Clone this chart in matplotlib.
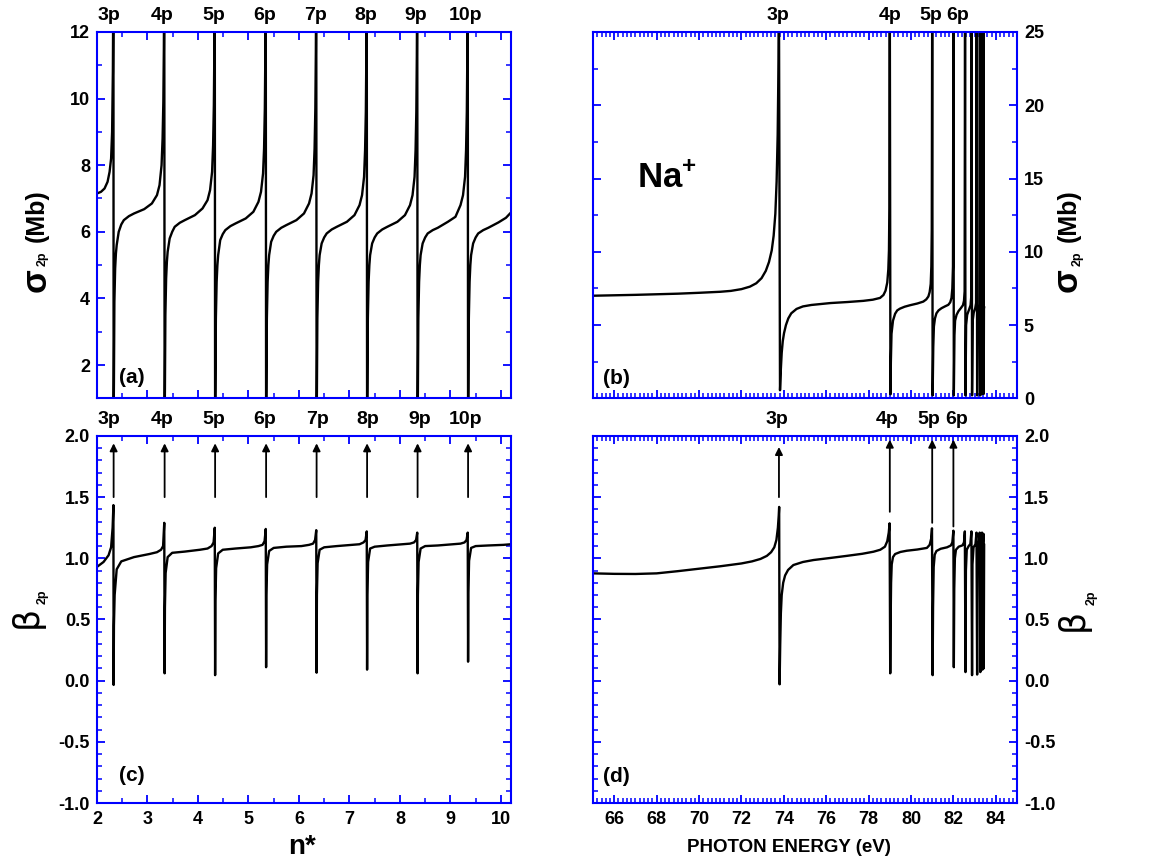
import matplotlib.pyplot as plt
from matplotlib.ticker import MultipleLocator, FuncFormatter

plt.rcParams['font.family'] = ['Liberation Sans', 'DejaVu Sans']
plt.rcParams['font.weight'] = 'bold'
plt.rcParams['mathtext.fontset'] = 'custom'
plt.rcParams['mathtext.rm'] = 'Liberation Sans:bold'
plt.rcParams['mathtext.bf'] = 'Liberation Sans:bold'

BLUE = '#0000ff'

# ---------------- n* panels (a) and (c) ----------------
res_n = [2.33, 3.34, 4.34, 5.35, 6.35, 7.35, 8.35, 9.35]
res_names = ['3p', '4p', '5p', '6p', '7p', '8p', '9p', '10p']
lab_a_x = [2.24, 3.29, 4.32, 5.32, 6.32, 7.33, 8.32, 9.29]
lab_c_x = [2.23, 3.29, 4.32, 5.33, 6.36, 7.37, 8.39, 9.29]

# sigma_2p (Mb) vs n*, below 3p
sig_lead_n = [2.0, 2.08, 2.15, 2.21, 2.25, 2.28, 2.30, 2.315, 2.326]
sig_lead = [7.15, 7.2, 7.3, 7.5, 7.8, 8.2, 9.0, 10.8, 14.0]
# fraction of the way from one resonance to the next at which values were read
frac_sig = [0.0, 0.006, 0.015, 0.03, 0.045, 0.06, 0.1, 0.15, 0.2, 0.3,
            0.4, 0.6, 0.75, 0.85, 0.9, 0.94, 0.96, 0.975, 0.985, 0.993]
sig_seg = [
    [0.3, 1.5, 3.9, 4.9, 5.35, 5.6, 6.0, 6.22, 6.35, 6.47, 6.55, 6.68, 6.85, 7.1, 7.4, 8.0, 8.8, 9.9, 11.5, 14.0],
    [0.2, 1.3, 3.5, 4.6, 5.1, 5.4, 5.8, 6.0, 6.15, 6.27, 6.35, 6.5, 6.7, 6.95, 7.25, 7.8, 8.6, 9.8, 11.5, 14.0],
    [0.2, 1.2, 3.4, 4.5, 5.0, 5.3, 5.75, 5.93, 6.05, 6.17, 6.25, 6.4, 6.6, 6.9, 7.2, 7.75, 8.5, 9.7, 11.4, 14.0],
    [0.2, 1.2, 3.4, 4.5, 5.0, 5.3, 5.7, 5.88, 6.0, 6.12, 6.2, 6.35, 6.55, 6.85, 7.15, 7.7, 8.5, 9.7, 11.4, 14.0],
    [0.2, 1.2, 3.4, 4.5, 5.0, 5.3, 5.65, 5.83, 5.95, 6.07, 6.15, 6.3, 6.5, 6.8, 7.1, 7.65, 8.45, 9.6, 11.3, 14.0],
    [0.2, 1.2, 3.4, 4.5, 5.0, 5.3, 5.65, 5.83, 5.95, 6.07, 6.15, 6.3, 6.5, 6.8, 7.1, 7.65, 8.45, 9.6, 11.3, 14.0],
    [0.2, 1.2, 3.4, 4.5, 5.0, 5.3, 5.65, 5.83, 5.95, 6.05, 6.12, 6.3, 6.45, 6.8, 7.1, 7.65, 8.45, 9.6, 11.3, 14.0],
]
sig_tail_dn = [0.0, 0.006, 0.015, 0.03, 0.045, 0.06, 0.1, 0.15, 0.2, 0.3, 0.4, 0.6, 0.75, 0.85]
sig_tail = [0.2, 1.2, 3.4, 4.5, 5.0, 5.3, 5.65, 5.83, 5.95, 6.05, 6.12, 6.28, 6.42, 6.58]

# beta_2p vs n*
beta_lead_n = [2.0, 2.13, 2.23, 2.28, 2.31, 2.326]
beta_lead = [0.93, 0.97, 1.025, 1.09, 1.25, 1.435]
frac_beta = [0.0, 0.006, 0.02, 0.06, 0.15, 0.4, 0.7, 0.85, 0.93, 0.97, 0.993]
beta_seg = [
    [-0.035, 0.45, 0.7, 0.91, 0.975, 1.01, 1.035, 1.05, 1.07, 1.1, 1.29],
    [0.06, 0.6, 0.88, 1.01, 1.045, 1.055, 1.07, 1.08, 1.1, 1.13, 1.25],
    [0.045, 0.65, 0.92, 1.04, 1.07, 1.08, 1.09, 1.1, 1.11, 1.14, 1.24],
    [0.11, 0.7, 0.95, 1.06, 1.085, 1.095, 1.1, 1.11, 1.12, 1.15, 1.23],
    [0.065, 0.7, 0.96, 1.07, 1.09, 1.1, 1.11, 1.115, 1.13, 1.15, 1.22],
    [0.09, 0.7, 0.97, 1.08, 1.095, 1.105, 1.115, 1.12, 1.13, 1.15, 1.21],
    [0.06, 0.7, 0.97, 1.08, 1.1, 1.105, 1.115, 1.12, 1.13, 1.15, 1.21],
]
beta_tail_dn = [0.0, 0.006, 0.02, 0.06, 0.15, 0.4, 0.7, 0.85]
beta_tail = [0.155, 0.72, 0.98, 1.085, 1.1, 1.105, 1.11, 1.115]
arrow_c_lo, arrow_c_hi = 1.5, 1.94

# ---------------- photon energy panels (b) and (d) ----------------
lab_e = ['3p', '4p', '5p', '6p']
lab_b_x = [73.73, 79.0, 80.93, 82.19]
lab_d_x = [73.66, 78.88, 80.82, 82.15]

sig_e = [65.0, 66.0, 67.0, 68.0, 69.0, 70.0, 71.0, 71.5, 72.0, 72.4, 72.7, 72.95, 73.15,
         73.3, 73.43, 73.52, 73.6, 73.66, 73.71, 73.75, 73.77,
         73.82, 73.86, 73.9, 73.95, 74.01, 74.1, 74.21, 74.35, 74.6, 74.9, 75.3, 76.2, 77.0,
         77.75, 78.2, 78.54, 78.7, 78.8, 78.88, 78.93, 78.96, 78.98, 79.0,
         79.03, 79.05, 79.08, 79.15, 79.25, 79.35, 79.48, 79.7, 79.95, 80.3, 80.58, 80.72,
         80.82, 80.88, 80.93, 80.96, 80.98, 81.0,
         81.02, 81.05, 81.08, 81.13, 81.2, 81.3, 81.44, 81.6, 81.76, 81.85, 81.91, 81.95,
         81.98, 82.0,
         82.02, 82.05, 82.08, 82.15, 82.24, 82.35, 82.45, 82.5, 82.53, 82.55,
         82.57, 82.6, 82.65, 82.75, 82.81, 82.84, 82.86,
         82.88, 82.91, 82.96, 83.03, 83.07, 83.1,
         83.12, 83.15, 83.2, 83.23, 83.25,
         83.27, 83.3, 83.34, 83.36,
         83.38, 83.4, 83.42,
         83.43, 83.44, 83.45]
sig_b = [7.0, 7.03, 7.06, 7.1, 7.14, 7.2, 7.27, 7.33, 7.45, 7.62, 7.85, 8.2, 8.7,
         9.3, 10.1, 11.1, 12.6, 14.8, 18.0, 23.0, 27.0,
         0.55, 2.0, 3.1, 3.9, 4.45, 5.0, 5.45, 5.8, 6.1, 6.27, 6.37, 6.5, 6.57,
         6.65, 6.73, 6.85, 7.05, 7.35, 7.9, 8.8, 10.1, 13.0, 27.0,
         0.27, 2.5, 4.4, 5.3, 5.77, 6.0, 6.12, 6.25, 6.35, 6.47, 6.6, 6.75,
         6.95, 7.25, 7.8, 9.0, 11.5, 27.0,
         0.2, 3.5, 4.9, 5.45, 5.8, 6.0, 6.15, 6.27, 6.38, 6.55, 6.85, 7.5,
         9.0, 27.0,
         0.2, 4.3, 5.3, 5.7, 5.95, 6.15, 6.35, 6.65, 7.3, 27.0,
         0.2, 5.0, 5.7, 6.1, 6.35, 6.9, 27.0,
         0.2, 5.3, 5.85, 6.15, 6.5, 27.0,
         0.2, 5.6, 6.1, 6.4, 27.0,
         0.2, 5.8, 6.3, 27.0,
         0.3, 6.0, 27.0,
         0.3, 6.1, 6.2]

beta_e = [65.0, 66.0, 67.0, 68.0, 69.0, 70.0, 71.0, 72.0, 72.5, 72.9, 73.2, 73.4, 73.55,
          73.65, 73.72, 73.76, 73.78,
          73.8, 73.83, 73.86, 73.9, 73.97, 74.06, 74.2, 74.45, 74.9, 75.4, 76.2, 76.97,
          77.7, 78.23, 78.55, 78.77, 78.88, 78.95, 78.99,
          79.02, 79.04, 79.06, 79.09, 79.15, 79.25, 79.5, 79.8, 80.3, 80.75, 80.88, 80.95, 80.99,
          81.02, 81.04, 81.07, 81.12, 81.2, 81.4, 81.7, 81.88, 81.95, 82.0,
          82.02, 82.04, 82.07, 82.12, 82.25, 82.43, 82.5, 82.54,
          82.57, 82.59, 82.63, 82.72, 82.8, 82.85,
          82.88, 82.9, 82.95, 83.04, 83.09,
          83.12, 83.14, 83.19, 83.24,
          83.27, 83.29, 83.35,
          83.37, 83.39, 83.42,
          83.43, 83.45]
beta_d = [0.877, 0.873, 0.872, 0.877, 0.895, 0.915, 0.935, 0.958, 0.975, 0.995, 1.02, 1.05, 1.09,
          1.15, 1.25, 1.35, 1.42,
          -0.03, 0.3, 0.55, 0.7, 0.8, 0.86, 0.905, 0.945, 0.97, 0.986, 1.003, 1.02,
          1.037, 1.054, 1.07, 1.095, 1.14, 1.21, 1.286,
          0.06, 0.5, 0.8, 0.95, 1.01, 1.035, 1.052, 1.062, 1.072, 1.085, 1.11, 1.16, 1.245,
          0.045, 0.6, 0.93, 1.03, 1.06, 1.078, 1.09, 1.105, 1.13, 1.226,
          0.11, 0.75, 1.0, 1.07, 1.095, 1.106, 1.13, 1.22,
          0.07, 0.9, 1.07, 1.1, 1.117, 1.22,
          0.045, 0.95, 1.09, 1.115, 1.21,
          0.05, 1.0, 1.11, 1.21,
          0.07, 1.05, 1.21,
          0.09, 1.1, 1.2,
          0.1, 1.11]
arrow_d_x = [73.77, 79.0, 81.0, 82.0]
arrow_d_lo = [1.5, 1.38, 1.29, 1.26]
arrow_d_hi = [1.91, 1.97, 1.97, 1.97]


def build(lead_x, lead_y, res, frac, rows, tail_dx, tail_y):
    xs, ys = list(lead_x), list(lead_y)
    for k, row in enumerate(rows):
        r0, r1 = res[k], res[k + 1]
        xs += [r0 + f * (r1 - r0) for f in frac]
        ys += row
    xs += [res[-1] + d for d in tail_dx]
    ys += tail_y
    return xs, ys


def style(ax, xmaj, xmin, ymaj, ymin):
    for s in ax.spines.values():
        s.set_edgecolor(BLUE)
        s.set_linewidth(1.5)
    ax.xaxis.set_major_locator(MultipleLocator(xmaj))
    ax.xaxis.set_minor_locator(MultipleLocator(xmin))
    ax.yaxis.set_major_locator(MultipleLocator(ymaj))
    ax.yaxis.set_minor_locator(MultipleLocator(ymin))
    ax.tick_params(which='both', direction='in', top=True, right=True,
                   color=BLUE, labelsize=13, pad=5)
    ax.tick_params(which='major', length=6, width=1.3)
    ax.tick_params(which='minor', length=3.5, width=1.1)


fig = plt.figure(figsize=(11.64, 8.64), dpi=100)
L1, W1 = 0.0833, 0.3557
L2, W2 = 0.5095, 0.3642
ax_a = fig.add_axes([L1, 0.539, W1, 0.424])
ax_b = fig.add_axes([L2, 0.539, W2, 0.424])
ax_c = fig.add_axes([L1, 0.0706, W1, 0.4248])
ax_d = fig.add_axes([L2, 0.0706, W2, 0.4248])

fmt1 = FuncFormatter(lambda v, p: f'{v:.1f}')

# (a)
xa, ya = build(sig_lead_n, sig_lead, res_n, frac_sig, sig_seg, sig_tail_dn, sig_tail)
ax_a.plot(xa, ya, color='k', lw=1.7)
ax_a.set_xlim(2, 10.2)
ax_a.set_ylim(1, 12)
style(ax_a, 1, 0.5, 2, 1)
ax_a.tick_params(labelbottom=False)

# (b)
ax_b.plot(sig_e, sig_b, color='k', lw=1.7)
ax_b.set_xlim(65, 85)
ax_b.set_ylim(0, 25)
style(ax_b, 2, 0.2, 5, 2.5)
ax_b.tick_params(labelbottom=False, labelleft=False, labelright=True)

# (c)
xc, yc = build(beta_lead_n, beta_lead, res_n, frac_beta, beta_seg, beta_tail_dn, beta_tail)
ax_c.plot(xc, yc, color='k', lw=1.7)
ax_c.set_xlim(2, 10.2)
ax_c.set_ylim(-1, 2)
style(ax_c, 1, 0.5, 0.5, 0.1)
ax_c.yaxis.set_major_formatter(fmt1)
ax_c.tick_params(axis='x', pad=6)

# (d)
ax_d.plot(beta_e, beta_d, color='k', lw=1.7)
ax_d.set_xlim(65, 85)
ax_d.set_ylim(-1, 2)
style(ax_d, 2, 0.2, 0.5, 0.1)
ax_d.yaxis.set_major_formatter(fmt1)
ax_d.tick_params(labelleft=False, labelright=True)
ax_d.tick_params(axis='x', pad=6)

# arrows
arr = dict(arrowstyle='-|>', color='k', lw=1.3, mutation_scale=11, shrinkA=0, shrinkB=0)
for x in res_n:
    ax_c.annotate('', xy=(x, arrow_c_hi), xytext=(x, arrow_c_lo), arrowprops=arr)
for x, lo, hi in zip(arrow_d_x, arrow_d_lo, arrow_d_hi):
    ax_d.annotate('', xy=(x, hi), xytext=(x, lo), arrowprops=arr)

# resonance labels above the frames
for ax, xs, names in [(ax_a, lab_a_x, res_names), (ax_c, lab_c_x, res_names),
                      (ax_b, lab_b_x, lab_e), (ax_d, lab_d_x, lab_e)]:
    tr = ax.get_xaxis_transform()
    for x, t in zip(xs, names):
        ax.text(x, 1.045, t, transform=tr, ha='center', va='center', fontsize=14)

# panel tags
ax_a.text(0.053, 0.057, '(a)', transform=ax_a.transAxes, ha='left', va='center', fontsize=15)
ax_b.text(0.023, 0.055, '(b)', transform=ax_b.transAxes, ha='left', va='center', fontsize=15)
ax_c.text(0.053, 0.076, '(c)', transform=ax_c.transAxes, ha='left', va='center', fontsize=15)
ax_d.text(0.023, 0.072, '(d)', transform=ax_d.transAxes, ha='left', va='center', fontsize=15)
ax_b.text(0.104, 0.60, r'Na$^{+}$', transform=ax_b.transAxes, ha='left', va='center', fontsize=25)


# axis titles built from pieces (big symbol, small subscript)
def ftext(px, py, s, size, weight='bold', family=None):
    kw = dict(rotation=90, ha='center', va='center', fontsize=size, fontweight=weight)
    if family:
        kw['family'] = family
    fig.text(px / 1164, 1 - py / 864, s, **kw)


ftext(36, 280, 'σ', 25)
ftext(43, 259, '2p', 9)
ftext(36.5, 216, '(Mb)', 18)
ftext(1067, 280, 'σ', 25)
ftext(1078, 259, '2p', 9)
ftext(1069, 216, '(Mb)', 18)
ftext(27, 617, 'β', 25, weight='normal', family=['DejaVu Sans'])
ftext(43, 597, '2p', 9)
ftext(1073, 620, 'β', 25, weight='normal', family=['DejaVu Sans'])
ftext(1092, 598, '2p', 9)

fig.text(302 / 1164, 1 - 847 / 864, 'n*', ha='center', va='center', fontsize=20)
fig.text(789 / 1164, 1 - 848 / 864, 'PHOTON ENERGY (eV)', ha='center', va='center', fontsize=13.5)

fig.savefig('out.png', dpi=100)
